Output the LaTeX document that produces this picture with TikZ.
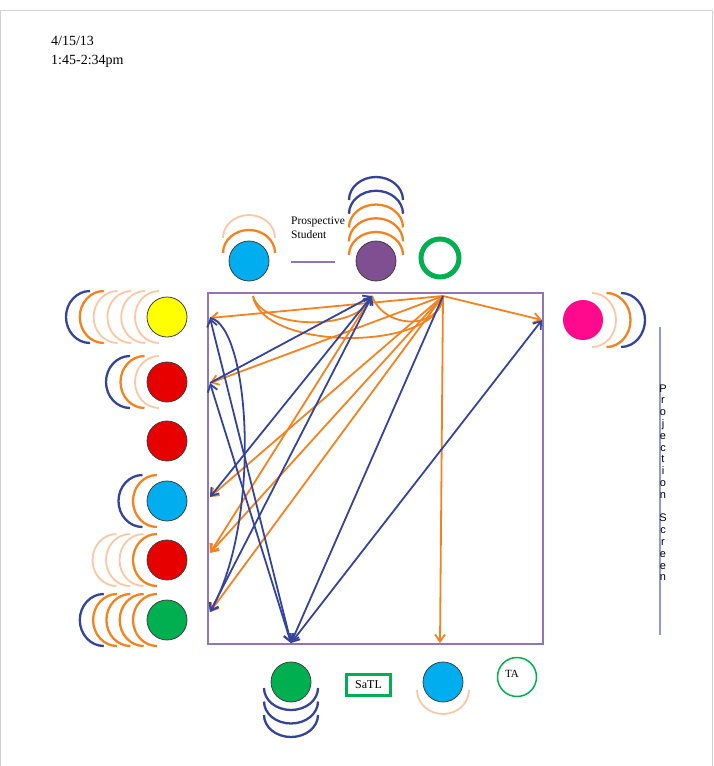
\documentclass[tikz,border=0pt]{standalone}
\usepackage{fontspec}
\setmainfont{Liberation Serif}
\newfontfamily\scrfont{Liberation Sans}
\usetikzlibrary{arrows.meta}
\definecolor{borg}{HTML}{F5821F}
\definecolor{lorg}{HTML}{FCC7A2}
\definecolor{nblue}{HTML}{34449C}
\definecolor{boxpurple}{HTML}{9474B4}
\definecolor{cblue}{HTML}{00AEEF}
\definecolor{cred}{HTML}{E60000}
\definecolor{cyellow}{HTML}{FFFF00}
\definecolor{cgreen}{HTML}{00B050}
\definecolor{cpurple}{HTML}{7F4F92}
\definecolor{cmag}{HTML}{FF0A8C}
\definecolor{scr}{HTML}{8E9CD0}
\tikzset{
  seat/.style={circle, minimum size=40pt, inner sep=0pt, draw=black!75, line width=0.8pt},
  oarc/.style={draw=borg, line width=2.3pt},
  larc/.style={draw=lorg, line width=1.8pt},
  barc/.style={draw=nblue, line width=2.3pt},
  oline/.style={draw=borg, line width=1.8pt},
  bline/.style={draw=nblue, line width=1.8pt},
  onehead/.style={-{Straight Barb[length=7pt,width=10pt]}},
  twohead/.style={{Straight Barb[length=7pt,width=10pt]}-{Straight Barb[length=7pt,width=10pt]}},
}
\begin{document}
\begin{tikzpicture}[x=1pt,y=-1pt]
\useasboundingbox (0,0) rectangle (713,766);
% page frame
\draw[gray!35, line width=0.8pt] (0.5,780) -- (0.5,10) -- (712.5,10) -- (712.5,780);

% date
\node[anchor=base west, align=left, inner sep=0pt, font=\fontsize{14}{19}\selectfont] (date) at (51,64) {4/15/13\\1:45-2:34pm};

% ---- arcs (drawn before seats) ----
% yellow
\foreach \k/\s in {0/larc,1/larc,2/larc,3/larc,4/oarc,5/barc}
  \draw[\s] ({159-13.8*\k},317) ++(90:24 and 26) arc[start angle=90,end angle=270,x radius=24,y radius=26];
% red 1
\foreach \k/\s in {0/larc,1/oarc,2/barc}
  \draw[\s] ({159-14.5*\k},382) ++(90:24 and 26) arc[start angle=90,end angle=270,x radius=24,y radius=26];
% blue left
\foreach \k/\s in {0/oarc,1/barc}
  \draw[\s] ({157-14.5*\k},501) ++(90:24 and 26) arc[start angle=90,end angle=270,x radius=24,y radius=26];
% red 3
\foreach \k/\s in {0/oarc,1/larc,2/larc,3/larc}
  \draw[\s] ({157-13.5*\k},560) ++(90:24 and 26) arc[start angle=90,end angle=270,x radius=24,y radius=26];
% green left
\foreach \k/\s in {0/oarc,1/oarc,2/oarc,3/oarc,4/barc}
  \draw[\s] ({157-13.3*\k},620) ++(90:24 and 26) arc[start angle=90,end angle=270,x radius=24,y radius=26];
% top blue
\foreach \k/\s in {0/oarc,1/larc}
  \draw[\s] (249,{253-15*\k}) ++(180:26 and 23) arc[start angle=180,end angle=360,x radius=26,y radius=23];
% purple
\foreach \k/\s in {0/oarc,1/oarc,2/oarc,3/barc,4/barc}
  \draw[\s] (376,{255-13.75*\k}) ++(180:27 and 23) arc[start angle=180,end angle=360,x radius=27,y radius=23];
% bottom green
\foreach \k in {0,1,2}
  \draw[barc] (291,{688+13.5*\k}) ++(0:27 and 22) arc[start angle=0,end angle=180,x radius=27,y radius=22];
% bottom blue
\draw[larc] (443,690) ++(0:26 and 24) arc[start angle=0,end angle=180,x radius=26,y radius=24];
% magenta
\foreach \k/\s in {0/larc,1/oarc,2/barc}
  \draw[\s] ({592+14.5*\k},320) ++(-90:24 and 27) arc[start angle=-90,end angle=90,x radius=24,y radius=27];

% ---- seats ----
\node[seat, fill=cblue] (tblue) at (249,261) {};
\node[seat, fill=cpurple] (pstud) at (376,261) {};
\node[circle, minimum size=38pt, inner sep=0pt, draw=cgreen, line width=5pt] (gring) at (440,258) {};
\node[seat, fill=cyellow] (yel) at (167,317) {};
\node[seat, fill=cred] (red1) at (167,382) {};
\node[seat, fill=cred] (red2) at (167,441) {};
\node[seat, fill=cblue] (lblue) at (167,501) {};
\node[seat, fill=cred] (red3) at (167,560) {};
\node[seat, fill=cgreen] (lgreen) at (167,620) {};
\node[circle, minimum size=40pt, inner sep=0pt, fill=cmag] (mag) at (583,320) {};
\node[seat, fill=cgreen] (bgreen) at (291,682) {};
\node[seat, fill=cblue] (bblue) at (443,682) {};
\node[circle, minimum size=39pt, inner sep=0pt, draw=cgreen, line width=1.5pt] (taring) at (517,677) {};
\node[font=\fontsize{11}{11}\selectfont, inner sep=0pt] (ta) at (512,674) {TA};
\node[draw=cgreen, line width=3.5pt, minimum width=44pt, minimum height=21pt, inner sep=0pt, font=\fontsize{12}{12}\selectfont] (satl) at (368.5,685) {SaTL};

% prospective student label
\node[anchor=base west, align=left, inner sep=0pt, font=\fontsize{11.5}{14}\selectfont] (prosp) at (291,238) {Prospective\\Student};
\draw[boxpurple, line width=2pt] (291,262) -- (335,262);

% projection screen
\draw[scr, line width=1.2pt] (660,327) -- (660,635);
\foreach \c [count=\i from 0] in {P,r,o,j,e,c,t,i,o,n,{},S,c,r,e,e,n}
  \node[anchor=base, inner sep=0pt, font=\scrfont\fontsize{11}{11}\selectfont] (ps\i) at (663,{392+11.8*\i}) {\c};

% ---- room box ----
\draw[boxpurple, line width=2pt] (208,293) rectangle (543,644);

% hubs
\coordinate (G) at (443,296);
\coordinate (P) at (372,296);
\coordinate (TS) at (253,296);
\coordinate (Y) at (210,318);
\coordinate (R1) at (210,383);
\coordinate (B) at (210,497);
\coordinate (R3) at (210,553);
\coordinate (Gr) at (210,612);
\coordinate (GB) at (291,643);
\coordinate (BB) at (440,643);
\coordinate (M) at (542,320);

% orange curves
\draw[oline] (G) .. controls (440,352) and (262,352) .. (TS);
\draw[oline] (TS) .. controls (262,330) and (360,332) .. (P);
\draw[oline] (P) .. controls (385,330) and (440,330) .. (G);

% orange arrows
\draw[oline, onehead] (G) -- (Y);
\draw[oline, onehead] (G) -- (M);
\draw[oline, onehead] (G) -- (BB);
\draw[oline, onehead] (G) -- (R1);
\draw[oline, onehead] (G) -- (B);
\draw[oline, onehead] (G) -- (R3);
\draw[oline, onehead] (G) -- (Gr);
\draw[oline, onehead] (P) -- (R3);

% blue arrows
\draw[bline, twohead] (Y) -- (GB);
\draw[bline, twohead] (R1) -- (GB);
\draw[bline, onehead] (Y) .. controls (250,325) and (262,520) .. (Gr);
\draw[bline, onehead] (R1) -- (P);
\draw[bline, twohead] (P) -- (B);
\draw[bline, twohead] (P) -- (Gr);
\draw[bline, onehead] (G) -- (GB);
\draw[bline, twohead] (GB) -- (M);
\end{tikzpicture}
\end{document}
